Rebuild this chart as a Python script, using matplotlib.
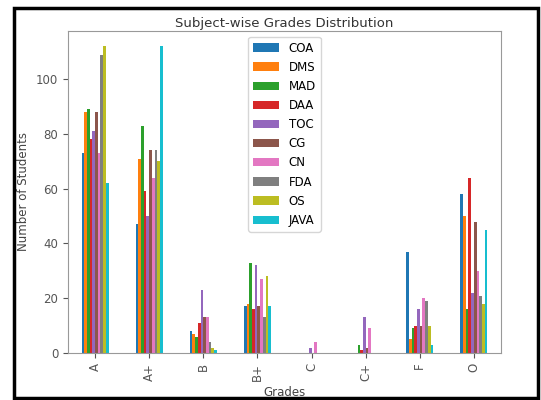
import matplotlib.pyplot as plt
import matplotlib.patches as patches
import pandas as pd

# Grades on the x axis and the count of students per subject
grades = ['A', 'A+', 'B', 'B+', 'C', 'C+', 'F', 'O']
coa = [73, 47, 8, 17, 0, 0, 37, 58]
dms = [88, 71, 7, 18, 0, 0, 5, 50]
mad = [89, 83, 6, 33, 0, 3, 9, 16]
daa = [78, 59, 11, 16, 0, 1, 10, 64]
toc = [81, 50, 23, 32, 2, 13, 16, 22]
cg = [88, 74, 13, 17, 0, 2, 10, 48]
cn = [73, 64, 13, 27, 4, 9, 20, 30]
fda = [109, 74, 4, 13, 0, 0, 19, 21]
os_ = [112, 70, 2, 28, 0, 0, 10, 18]
java = [62, 112, 1, 17, 0, 0, 3, 45]

df = pd.DataFrame({
    'COA': coa, 'DMS': dms, 'MAD': mad, 'DAA': daa, 'TOC': toc,
    'CG': cg, 'CN': cn, 'FDA': fda, 'OS': os_, 'JAVA': java,
}, index=grades)

fig = plt.figure(figsize=(5.41, 4.0), dpi=100)
ax = fig.add_axes([0.1257, 0.1175, 0.8003, 0.805])

df.plot(kind='bar', ax=ax)

ax.set_title('Subject-wise Grades Distribution', fontsize=9.5, color='#333333', pad=3)
ax.set_xlabel('Grades', fontsize=8.5, color='#444444', labelpad=4)
ax.set_ylabel('Number of Students', fontsize=8.5, color='#444444', labelpad=4)
ax.tick_params(labelsize=8.5, colors='#555555')
for s in ax.spines.values():
    s.set_color('#999999')

ax.legend(loc='upper center', fontsize=8.5, handlelength=2.2, labelspacing=0.52,
          bbox_to_anchor=(0.5, 1.0))

# black frame around the whole picture
frame = patches.Rectangle((0.025, 0.005), 0.97, 0.975, transform=fig.transFigure,
                          fill=False, edgecolor='black', linewidth=2.5)
fig.patches.append(frame)

plt.savefig('out.png', dpi=100)
plt.close(fig)
